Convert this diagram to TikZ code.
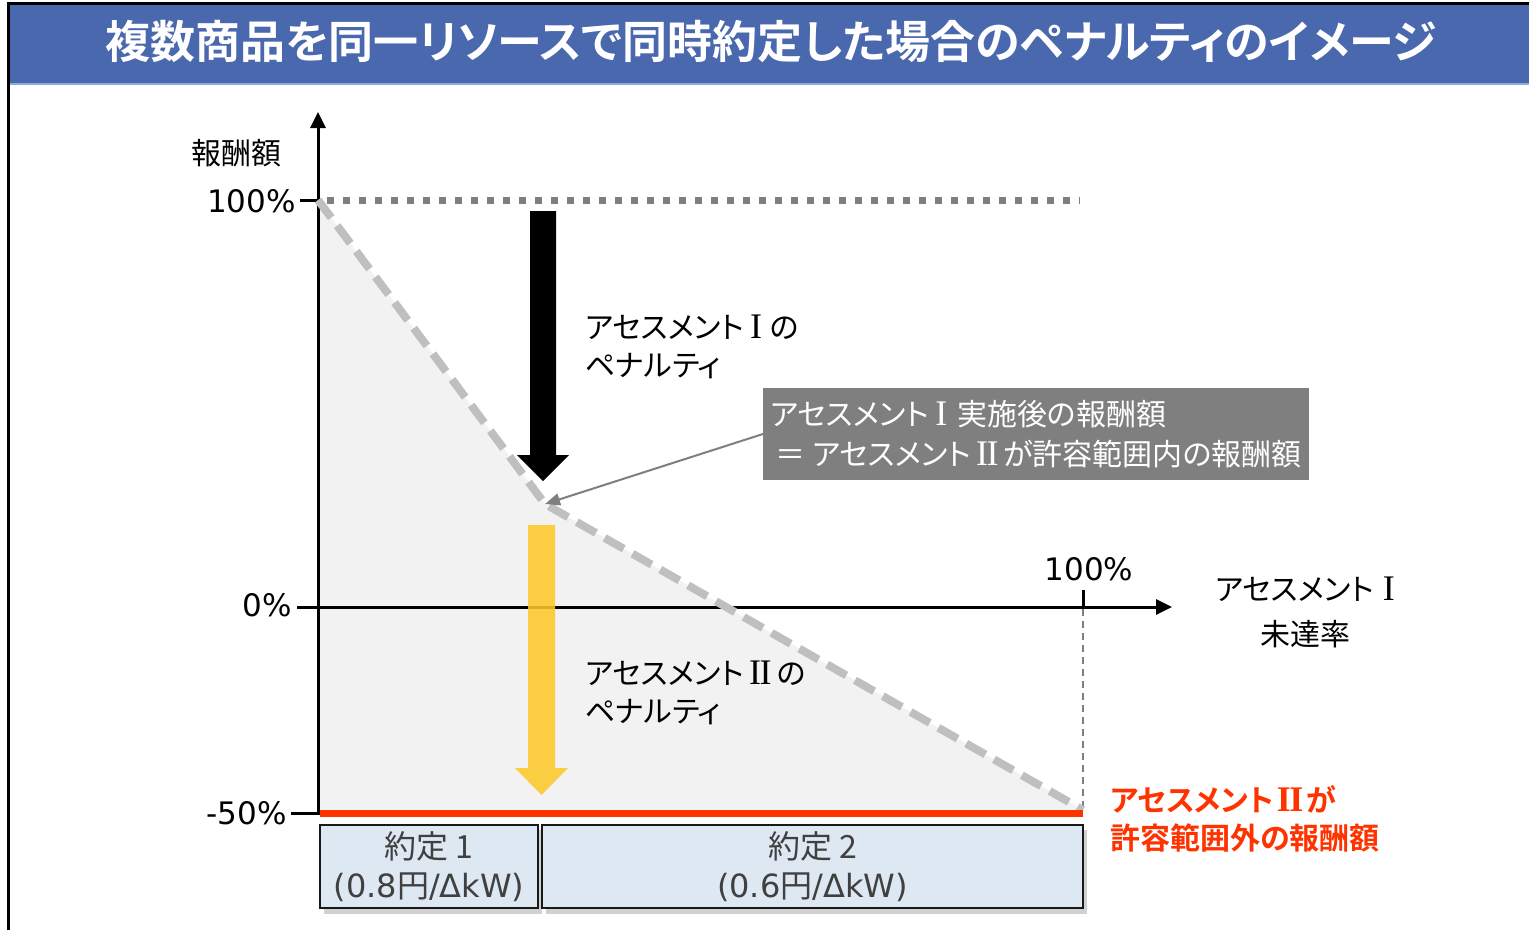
\documentclass[tikz,border=0pt]{standalone}
\usepackage{fontspec}
\setmainfont{DejaVu Sans}
\newfontfamily\cjk[RawFeature=+palt]{Noto Sans CJK JP}
\newfontfamily\cjkb[RawFeature=+palt]{Noto Sans CJK JP Bold}
\newfontfamily\romf[Scale=1.2]{Liberation Serif}
\newcommand\rI{\nobreak\hspace{6pt}\nobreak{\romf I}\nobreak\hspace{8pt}\nobreak}
\newcommand\rII{\nobreak\hspace{5pt}\nobreak{\romf I\kern-1.5pt I}\nobreak\hspace{5pt}\nobreak}
\newcommand\rIIb{\nobreak\hspace{3pt}\nobreak{\romf\bfseries I\kern-1.5pt I}\nobreak\hspace{3pt}\nobreak}
\usetikzlibrary{arrows.meta}
\definecolor{titleblue}{HTML}{4A68AE}
\definecolor{titleline}{HTML}{8EA9DB}
\definecolor{dotgray}{HTML}{7F7F7F}
\definecolor{dashgray}{HTML}{BFBFBF}
\definecolor{areafill}{HTML}{F2F2F2}
\definecolor{penred}{HTML}{FF3300}
\definecolor{arrowyellow}{HTML}{FCC82A}
\definecolor{boxblue}{HTML}{DEE8F3}
\definecolor{boxtext}{HTML}{404040}
\newcommand\setfs[2]{\fontsize{#1}{#2}\selectfont}
\begin{document}
\begin{tikzpicture}[x=1pt,y=-1pt,
  lbl/.style={inner sep=0pt, font=\cjk\setfs{30}{38}, align=left},
  num/.style={inner sep=0pt, font=\setfs{31}{38}},
  axisline/.style={line width=3pt, black},
  contract/.style={draw=black!90, line width=2pt, fill=boxblue, inner sep=0pt, text=boxtext,
     font=\setfs{32}{39}, align=center, minimum height=83pt},
  shadowbox/.style={fill=black!18, draw=none},
]
\useasboundingbox (0,0) rectangle (1529,930);
\fill[white] (0,0) rectangle (1529,930);

% frame and title
\fill[titleblue] (9,4) rectangle (1529,83);
\draw[titleline, line width=1.5pt] (9,84) -- (1529,84);
\draw[line width=3pt] (8,930) -- (8,3) -- (1529,3);
\node[inner sep=0pt, text=white, font=\cjkb\setfs{45}{50}] (title) at (771,42)
  {複数商品を同一リソースで同時約定した場合のペナルティのイメージ};

% shaded area
\coordinate (top) at (318,200);
\coordinate (knee) at (545,504);
\coordinate (end) at (1083,810);
\fill[areafill] (top) -- (knee) -- (end) -- (1083,813) -- (318,813) -- cycle;

% 100% dotted line
\draw[dotgray, line width=7pt, dash pattern=on 7pt off 9pt] (327,200) -- (1080,200);

% axes
\draw[axisline] (300,200) -- (318,200);
\draw[axisline] (291,813) -- (318,813);
\draw[axisline, -{Triangle[length=16pt,width=15pt]}] (318,815) -- (318,112);
\draw[axisline, -{Triangle[length=16pt,width=15pt]}] (297,607) -- (1172,607);
\draw[axisline] (1083,590) -- (1083,607);
\draw[dotgray, line width=1.5pt, dash pattern=on 7pt off 5pt] (1083,609) -- (1083,810);

% dashed reward line
\draw[dashgray, line width=8pt, dash pattern=on 22pt off 10pt] (top) -- (knee) -- (end);

% red line
\draw[penred, line width=7pt] (320,813) -- (1083,813);

% black arrow
\fill[black] (530,211) -- (556,211) -- (556,455) -- (569,455) -- (543,481) -- (517,455) -- (530,455) -- cycle;
% yellow arrow
\fill[arrowyellow, opacity=0.88] (528,525) -- (555,525) -- (555,768) -- (568,768) -- (541.5,795) -- (515,768) -- (528,768) -- cycle;

% labels
\node[lbl] (yl) at (236,153) {報酬額};
\node[num, anchor=east] (y100) at (296,201) {100\%};
\node[num, anchor=east] (y0) at (292,605) {0\%};
\node[num, anchor=east] (y50) at (287,813) {-50\%};
\node[num] (x100) at (1089,569) {100\%};
\node[lbl, align=center, font=\cjk\setfs{30}{45}] (xl) at (1305,612) {アセスメント{\hspace{9pt}\romf I}\\未達率};
\node[lbl, anchor=west] (p1) at (585,347) {アセスメント\rI の\\ペナルティ};
\node[lbl, anchor=west] (p2) at (585,693) {アセスメント\rII の\\ペナルティ};
\node[lbl, anchor=west, text=penred, font=\cjkb\setfs{30}{38}] (red) at (1110,819)
  {アセスメント\rIIb が\\許容範囲外の報酬額};

% callout
\node[lbl, anchor=west, fill=dotgray, text=white, font=\cjk\setfs{30}{40},
  minimum width=546pt, inner xsep=7pt, inner ysep=0pt, minimum height=92pt] (callout) at (763,434)
  {アセスメント\rI\hspace{2pt}実施後の報酬額\\\,＝ アセスメント\rII が許容範囲内の報酬額};
\draw[dotgray, line width=2pt, -{Triangle[length=15pt,width=12pt]}] (callout.west) -- (knee);

% contract boxes
\fill[shadowbox] (324,830) rectangle (542,914);
\fill[shadowbox] (546,830) rectangle (1087,914);
\node[contract, minimum width=218pt] (c1) at (429,866.5)
  {{\cjk 約定 1}\\(0.8{\cjk 円}/ΔkW)};
\node[contract, minimum width=541pt] (c2) at (812.5,866.5)
  {{\cjk 約定 2}\\(0.6{\cjk 円}/ΔkW)};
\end{tikzpicture}
\end{document}
